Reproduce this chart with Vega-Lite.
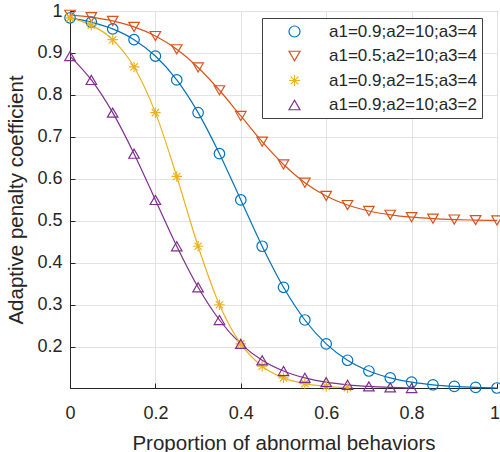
{
  "$schema": "https://vega.github.io/schema/vega-lite/v6.json",
  "width": 427,
  "height": 377,
  "autosize": {"type": "none"},
  "padding": {"left": 70, "top": 11, "right": 3, "bottom": 64},
  "background": "white",
  "config": {
    "font": "Liberation Sans",
    "view": {"stroke": "#262626", "strokeWidth": 1},
    "axis": {
      "domainColor": "#262626",
      "tickColor": "#262626",
      "tickSize": -5,
      "labelColor": "#262626",
      "labelFontSize": 18,
      "titleColor": "#262626",
      "titleFontSize": 20.5,
      "titleFontWeight": "normal",
      "gridColor": "#e3e3e3",
      "gridWidth": 1
    },
    "legend": {
      "title": null,
      "orient": "none",
      "legendX": 192,
      "legendY": 7,
      "padding": 5,
      "strokeColor": "#404040",
      "fillColor": "white",
      "labelFontSize": 17,
      "labelColor": "#262626",
      "labelOffset": 26,
      "symbolOffset": 19,
      "symbolSize": 121,
      "symbolStrokeWidth": 1.2,
      "symbolFillColor": "transparent",
      "rowPadding": 6.5,
      "labelLimit": 300
    }
  },
  "data": {
    "values": [
      {"s": "a1=0.9;a2=10;a3=4", "x": 0, "y": 0.98381},
      {"s": "a1=0.9;a2=10;a3=4", "x": 0.05, "y": 0.97362},
      {"s": "a1=0.9;a2=10;a3=4", "x": 0.1, "y": 0.95732},
      {"s": "a1=0.9;a2=10;a3=4", "x": 0.15, "y": 0.93173},
      {"s": "a1=0.9;a2=10;a3=4", "x": 0.2, "y": 0.89272},
      {"s": "a1=0.9;a2=10;a3=4", "x": 0.25, "y": 0.83582},
      {"s": "a1=0.9;a2=10;a3=4", "x": 0.3, "y": 0.75795},
      {"s": "a1=0.9;a2=10;a3=4", "x": 0.35, "y": 0.66021},
      {"s": "a1=0.9;a2=10;a3=4", "x": 0.4, "y": 0.55},
      {"s": "a1=0.9;a2=10;a3=4", "x": 0.45, "y": 0.43979},
      {"s": "a1=0.9;a2=10;a3=4", "x": 0.5, "y": 0.34205},
      {"s": "a1=0.9;a2=10;a3=4", "x": 0.55, "y": 0.26418},
      {"s": "a1=0.9;a2=10;a3=4", "x": 0.6, "y": 0.20728},
      {"s": "a1=0.9;a2=10;a3=4", "x": 0.65, "y": 0.16827},
      {"s": "a1=0.9;a2=10;a3=4", "x": 0.7, "y": 0.14268},
      {"s": "a1=0.9;a2=10;a3=4", "x": 0.75, "y": 0.12638},
      {"s": "a1=0.9;a2=10;a3=4", "x": 0.8, "y": 0.11619},
      {"s": "a1=0.9;a2=10;a3=4", "x": 0.85, "y": 0.10989},
      {"s": "a1=0.9;a2=10;a3=4", "x": 0.9, "y": 0.10602},
      {"s": "a1=0.9;a2=10;a3=4", "x": 0.95, "y": 0.10366},
      {"s": "a1=0.9;a2=10;a3=4", "x": 1, "y": 0.10223},
      {"s": "a1=0.5;a2=10;a3=4", "x": 0, "y": 0.99101},
      {"s": "a1=0.5;a2=10;a3=4", "x": 0.05, "y": 0.98534},
      {"s": "a1=0.5;a2=10;a3=4", "x": 0.1, "y": 0.97629},
      {"s": "a1=0.5;a2=10;a3=4", "x": 0.15, "y": 0.96207},
      {"s": "a1=0.5;a2=10;a3=4", "x": 0.2, "y": 0.9404},
      {"s": "a1=0.5;a2=10;a3=4", "x": 0.25, "y": 0.90879},
      {"s": "a1=0.5;a2=10;a3=4", "x": 0.3, "y": 0.86553},
      {"s": "a1=0.5;a2=10;a3=4", "x": 0.35, "y": 0.81123},
      {"s": "a1=0.5;a2=10;a3=4", "x": 0.4, "y": 0.75},
      {"s": "a1=0.5;a2=10;a3=4", "x": 0.45, "y": 0.68877},
      {"s": "a1=0.5;a2=10;a3=4", "x": 0.5, "y": 0.63447},
      {"s": "a1=0.5;a2=10;a3=4", "x": 0.55, "y": 0.59121},
      {"s": "a1=0.5;a2=10;a3=4", "x": 0.6, "y": 0.5596},
      {"s": "a1=0.5;a2=10;a3=4", "x": 0.65, "y": 0.53793},
      {"s": "a1=0.5;a2=10;a3=4", "x": 0.7, "y": 0.52371},
      {"s": "a1=0.5;a2=10;a3=4", "x": 0.75, "y": 0.51466},
      {"s": "a1=0.5;a2=10;a3=4", "x": 0.8, "y": 0.50899},
      {"s": "a1=0.5;a2=10;a3=4", "x": 0.85, "y": 0.50549},
      {"s": "a1=0.5;a2=10;a3=4", "x": 0.9, "y": 0.50334},
      {"s": "a1=0.5;a2=10;a3=4", "x": 0.95, "y": 0.50203},
      {"s": "a1=0.5;a2=10;a3=4", "x": 1, "y": 0.50124},
      {"s": "a1=0.9;a2=15;a3=4", "x": 0, "y": 0.98381},
      {"s": "a1=0.9;a2=15;a3=4", "x": 0.05, "y": 0.96641},
      {"s": "a1=0.9;a2=15;a3=4", "x": 0.1, "y": 0.93173},
      {"s": "a1=0.9;a2=15;a3=4", "x": 0.15, "y": 0.86676},
      {"s": "a1=0.9;a2=15;a3=4", "x": 0.2, "y": 0.75795},
      {"s": "a1=0.9;a2=15;a3=4", "x": 0.25, "y": 0.60595},
      {"s": "a1=0.9;a2=15;a3=4", "x": 0.3, "y": 0.43979},
      {"s": "a1=0.9;a2=15;a3=4", "x": 0.35, "y": 0.30043},
      {"s": "a1=0.9;a2=15;a3=4", "x": 0.4, "y": 0.20728},
      {"s": "a1=0.9;a2=15;a3=4", "x": 0.45, "y": 0.15408},
      {"s": "a1=0.9;a2=15;a3=4", "x": 0.5, "y": 0.12638},
      {"s": "a1=0.9;a2=15;a3=4", "x": 0.55, "y": 0.11266},
      {"s": "a1=0.9;a2=15;a3=4", "x": 0.6, "y": 0.10602},
      {"s": "a1=0.9;a2=15;a3=4", "x": 0.65, "y": 0.10286},
      {"s": "a1=0.9;a2=10;a3=2", "x": 0, "y": 0.89272},
      {"s": "a1=0.9;a2=10;a3=2", "x": 0.05, "y": 0.83582},
      {"s": "a1=0.9;a2=10;a3=2", "x": 0.1, "y": 0.75795},
      {"s": "a1=0.9;a2=10;a3=2", "x": 0.15, "y": 0.66021},
      {"s": "a1=0.9;a2=10;a3=2", "x": 0.2, "y": 0.55},
      {"s": "a1=0.9;a2=10;a3=2", "x": 0.25, "y": 0.43979},
      {"s": "a1=0.9;a2=10;a3=2", "x": 0.3, "y": 0.34205},
      {"s": "a1=0.9;a2=10;a3=2", "x": 0.35, "y": 0.26418},
      {"s": "a1=0.9;a2=10;a3=2", "x": 0.4, "y": 0.20728},
      {"s": "a1=0.9;a2=10;a3=2", "x": 0.45, "y": 0.16827},
      {"s": "a1=0.9;a2=10;a3=2", "x": 0.5, "y": 0.14268},
      {"s": "a1=0.9;a2=10;a3=2", "x": 0.55, "y": 0.12638},
      {"s": "a1=0.9;a2=10;a3=2", "x": 0.6, "y": 0.11619},
      {"s": "a1=0.9;a2=10;a3=2", "x": 0.65, "y": 0.10989},
      {"s": "a1=0.9;a2=10;a3=2", "x": 0.7, "y": 0.10602},
      {"s": "a1=0.9;a2=10;a3=2", "x": 0.75, "y": 0.10366},
      {"s": "a1=0.9;a2=10;a3=2", "x": 0.8, "y": 0.10223}
    ]
  },
  "encoding": {
    "x": {
      "field": "x", "type": "quantitative",
      "scale": {"domain": [0, 1], "nice": false, "zero": false},
      "axis": {
        "title": "Proportion of abnormal behaviors",
        "values": [0, 0.2, 0.4, 0.6, 0.8, 1],
        "format": "~g",
        "labelPadding": 21,
        "titlePadding": 11,
        "labelFlush": false,
        "labelAlign": {"condition": {"test": "datum.value >= 0.99", "value": "right"}, "value": "center"},
        "labelOffset": {"condition": {"test": "datum.value >= 0.99", "value": 2.5}, "value": 0}
      }
    },
    "y": {
      "field": "y", "type": "quantitative",
      "scale": {"domain": [0.10222, 1], "nice": false, "zero": false},
      "axis": {
        "title": "Adaptive penalty coefficient",
        "values": [0.2, 0.3, 0.4, 0.5, 0.6, 0.7, 0.8, 0.9, 1],
        "format": "~g",
        "labelPadding": 13,
        "titlePadding": 10,
        "labelFlush": false
      }
    },
    "color": {
      "field": "s", "type": "nominal",
      "scale": {
        "domain": ["a1=0.9;a2=10;a3=4", "a1=0.5;a2=10;a3=4", "a1=0.9;a2=15;a3=4", "a1=0.9;a2=10;a3=2"],
        "range": ["#0072BD", "#D95319", "#EDB120", "#7E2F8E"]
      },
      "legend": {
        "title": null,
        "encode": {
          "symbols": {
            "update": {
              "shape": {
                "condition": [
                  {"test": "datum.value === 'a1=0.9;a2=10;a3=4'", "value": "M-5,0L5,0M1,0A1,1,0,1,1,-1,0A1,1,0,1,1,1,0"},
                  {"test": "datum.value === 'a1=0.5;a2=10;a3=4'", "value": "M-5,0L5,0M-1.05,-0.85L1.05,-0.85L0,0.95Z"},
                  {"test": "datum.value === 'a1=0.9;a2=15;a3=4'", "value": "M-5,0L5,0M0,-0.95L0,0.95M-0.7,-0.7L0.7,0.7M-0.7,0.7L0.7,-0.7"}
                ],
                "value": "M-5,0L5,0M0,-0.95L-1.05,0.85L1.05,0.85Z"
              }
            }
          }
        }
      }
    }
  },
  "layer": [
    {
      "mark": {"type": "line", "interpolate": "monotone", "strokeWidth": 1.2},
      "encoding": {
        "detail": {"field": "s"}
      }
    },
    {
      "mark": {"type": "point", "filled": false, "size": 110, "strokeWidth": 1.2, "opacity": 1},
      "encoding": {
        "shape": {
          "field": "s", "type": "nominal",
          "scale": {
            "domain": ["a1=0.9;a2=10;a3=4", "a1=0.5;a2=10;a3=4", "a1=0.9;a2=15;a3=4", "a1=0.9;a2=10;a3=2"],
            "range": ["circle", "triangle-down", "M0,-1L0,1M-1,0L1,0M-0.7,-0.7L0.7,0.7M-0.7,0.7L0.7,-0.7", "triangle-up"]
          },
          "legend": null
        }
      }
    }
  ]
}
